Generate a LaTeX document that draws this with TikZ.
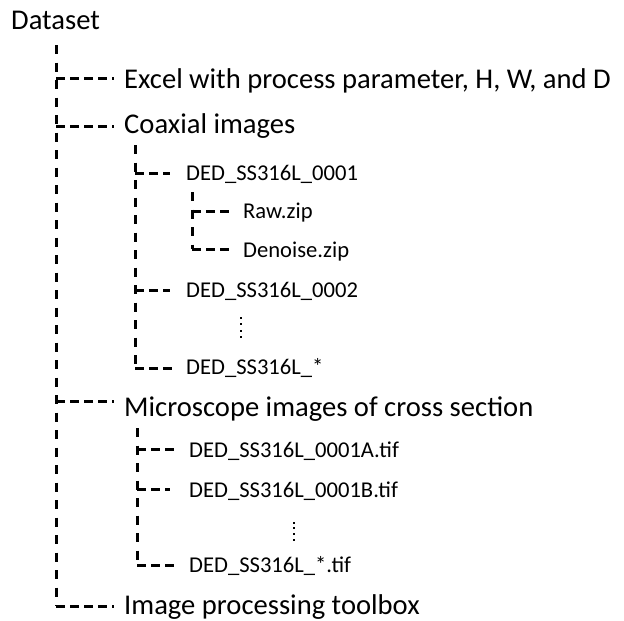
\documentclass[tikz,border=0pt]{standalone}
\usepackage{fontspec}
\setmainfont{Carlito}
\begin{document}
\begin{tikzpicture}[x=1pt,y=-1pt]
\tikzset{
  vl/.style={line width=3pt, dash pattern=on 9pt off 8.5pt},
  hl/.style={line width=3pt, dash pattern=on 9pt off 5pt},
  big/.style={anchor=base west, inner sep=0pt, font=\fontsize{28.6}{30}\selectfont},
  small/.style={anchor=base west, inner sep=0pt, font=\fontsize{22.6}{24}\selectfont},
  dot/.style={fill=black, minimum size=2.8pt, inner sep=0pt, shape=rectangle}
}
\useasboundingbox (0,0) rectangle (624,621);
% texts
\node[big] (ds) at (11,29) {Dataset};
\node[big] (ex) at (124,88) {Excel with process parameter, H, W, and D};
\node[big] (co) at (124,133) {Coaxial images};
\node[small] (c1) at (186,180) {DED\_SS316L\_0001};
\node[small] (raw) at (243,218) {Raw.zip};
\node[small] (den) at (243,257) {Denoise.zip};
\node[small] (c2) at (186,297) {DED\_SS316L\_0002};
\node[small] (cs) at (186,374) {DED\_SS316L\_*};
\node[big] (mi) at (124,416) {Microscope images of cross section};
\node[small] (ma) at (189,457) {DED\_SS316L\_0001A.tif};
\node[small] (mb) at (189,497) {DED\_SS316L\_0001B.tif};
\node[small] (ms) at (189,572) {DED\_SS316L\_*.tif};
\node[big] (ip) at (124,614) {Image processing toolbox};
% main trunk
\coordinate (t0) at (56,45);
\coordinate (tex) at (56,78);
\coordinate (tco) at (56,126);
\coordinate (tmi) at (56,401);
\coordinate (tip) at (56,606);
\draw[vl] (t0) -- (tip);
\draw[hl] (tex) -- ([xshift=-10pt]tex -| ex.west);
\draw[hl] (tco) -- ([xshift=-10pt]tco -| co.west);
\draw[hl] (tmi) -- ([xshift=-10pt]tmi -| mi.west);
\draw[hl] (tip) -- ([xshift=-10pt]tip -| ip.west);
% coaxial subtree
\coordinate (s0) at (135,145);
\coordinate (sc1) at (135,173);
\coordinate (sc2) at (135,290);
\coordinate (scs) at (135,368);
\draw[vl] (s0) -- (scs);
\draw[hl] (sc1) -- ([xshift=-16pt]sc1 -| c1.west);
\draw[hl] (sc2) -- ([xshift=-16pt]sc2 -| c2.west);
\draw[hl] (scs) -- ([xshift=-12pt]scs -| cs.west);
% raw/denoise subtree
\coordinate (r0) at (192,192);
\coordinate (rr) at (192,211);
\coordinate (rd) at (192,249);
\draw[vl] (r0) -- (rd);
\draw[hl] (rr) -- ([xshift=-11pt]rr -| raw.west);
\draw[hl] (rd) -- ([xshift=-11pt]rd -| den.west);
% microscope subtree
\coordinate (m0) at (137,428);
\coordinate (mma) at (137,449);
\coordinate (mmb) at (137,489);
\coordinate (mms) at (137,565);
\draw[vl] (m0) -- (mms);
\draw[hl] (mma) -- ([xshift=-14pt]mma -| ma.west);
\draw[hl] (mmb) -- ([xshift=-19pt]mmb -| mb.west);
\draw[hl] (mms) -- ([xshift=-14pt]mms -| ms.west);
% vertical ellipses
\foreach \yy in {318,324,331,337} \node[dot] at (241,\yy) {};
\foreach \yy in {523,528,534,540} \node[dot] at (294,\yy) {};
\end{tikzpicture}
\end{document}
